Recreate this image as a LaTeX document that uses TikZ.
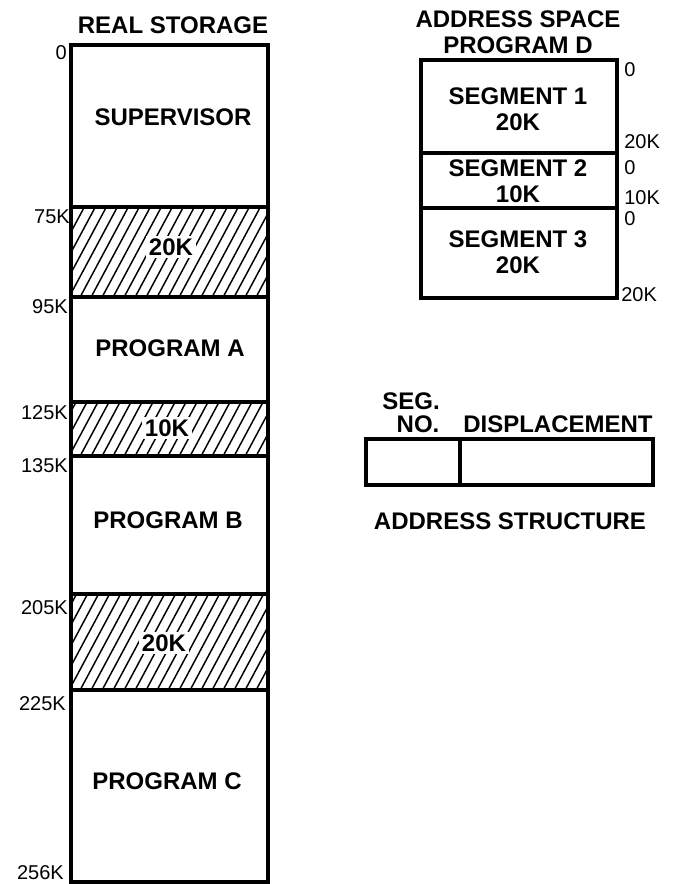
\documentclass[tikz,border=0pt]{standalone}
\usepackage{fontspec}
\setmainfont{Liberation Sans}
\usetikzlibrary{positioning}

\newcommand{\hatchzone}[4]{%
  \begin{scope}
    \clip (#1,#2) rectangle (#3,#4);
    \foreach \hx in {0,11,...,330} {\draw[hatch] (#1-70+\hx,#4+4) -- ++(60,-112);}
  \end{scope}}

\begin{document}
\begin{tikzpicture}[x=0.75pt, y=-0.75pt,
  box/.style={draw=black, line width=2.4pt},
  hatch/.style={draw=black, line width=1.1pt},
  big/.style={font=\fontsize{18}{19.5}\selectfont\bfseries, inner sep=0pt, align=center},
  hole/.style={big, fill=white, inner sep=2pt},
  addr/.style={font=\fontsize{15}{16}\selectfont, inner sep=0pt}
]
\useasboundingbox (0,0) rectangle (674,884);

% real storage
\node[big] (rstitle) at (173,25) {REAL STORAGE};
\hatchzone{71}{207}{268}{297}
\hatchzone{71}{402}{268}{456}
\hatchzone{71}{594}{268}{690}
\draw[box] (71,45) rectangle (268,882);
\foreach \b in {207,297,402,456,594,690} \draw[box] (71,\b) -- (268,\b);

\node[big] (sup) at (173,117) {SUPERVISOR};
\node[hole] (free1) at (171,247) {20K};
\node[big] (proga) at (170,348) {PROGRAM A};
\node[hole] (free2) at (167,428) {10K};
\node[big] (progb) at (168,520) {PROGRAM B};
\node[hole] (free3) at (164,643) {20K};
\node[big] (progc) at (167,781) {PROGRAM C};

\node[addr, anchor=north east] (r0) at (67,45) {0};
\node[addr, anchor=north east] (r75) at (70,209) {75K};
\node[addr, anchor=north east] (r95) at (68,299) {95K};
\node[addr, anchor=north east] (r125) at (68,405) {125K};
\node[addr, anchor=north east] (r135) at (68,458) {135K};
\node[addr, anchor=north east] (r205) at (68,600) {205K};
\node[addr, anchor=north east] (r225) at (66,696) {225K};
\node[addr, anchor=east] (r256) at (64,873) {256K};

% address space of program D
\node[big] (astitle) at (518,32) {ADDRESS SPACE\\PROGRAM D};
\draw[box] (421,60) rectangle (617,298);
\draw[box] (421,153) -- (617,153);
\draw[box] (421,208) -- (617,208);
\node[big] (seg1) at (518,109) {SEGMENT 1\\20K};
\node[big] (seg2) at (518,181) {SEGMENT 2\\10K};
\node[big] (seg3) at (518,252) {SEGMENT 3\\20K};

\node[addr, anchor=west] (s1a) at (624,70) {0};
\node[addr, anchor=west] (s1b) at (624,142) {20K};
\node[addr, anchor=west] (s2a) at (624,168) {0};
\node[addr, anchor=west] (s2b) at (624,198) {10K};
\node[addr, anchor=west] (s3a) at (624,219) {0};
\node[addr, anchor=west] (s3b) at (621,295) {20K};

% address structure
\draw[box] (366,439) rectangle (653,485);
\draw[box] (460,439) -- (460,485);
\node[big] (segno) at (411,401) {SEG.};
\node[big] (no) at (418,424) {NO.};
\node[big, anchor=west] (disp) at (463,424) {DISPLACEMENT};
\node[big] (astruct) at (510,521) {ADDRESS STRUCTURE};
\end{tikzpicture}
\end{document}
